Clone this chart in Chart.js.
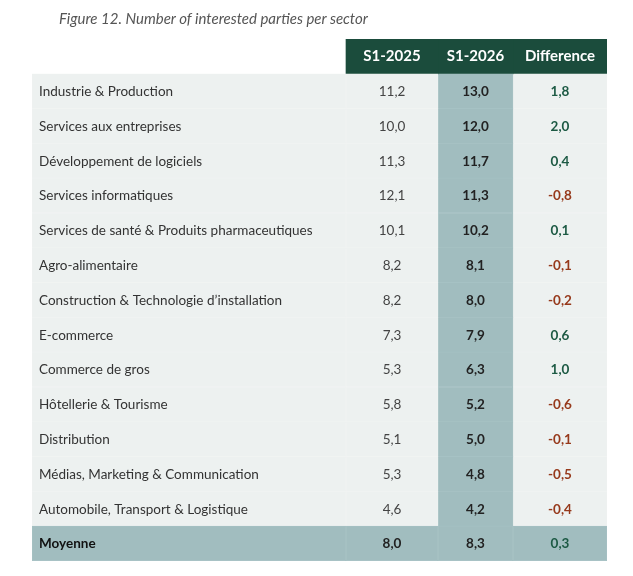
<!DOCTYPE html>
<html lang="fr">
<head>
  <meta charset="UTF-8">
  <title>Figure 12</title>
  <script src="https://cdn.jsdelivr.net/npm/chart.js"></script>
  <style>
    html, body { margin: 0; padding: 0; background: #fff; }
    #wrap { position: relative; width: 633px; height: 576px; }
    #title {
      position: absolute; left: 59px; top: 9px;
      font: italic 15px Lato, sans-serif; color: #555;
    }
    canvas { position: absolute; left: 0; top: 0; }
  </style>
</head>
<body>
  <div id="wrap">
    <canvas id="tbl" width="633" height="576"></canvas>
    <div id="title">Figure 12. Number of interested parties per sector</div>
  </div>
  <script>
    // données
    const sectors = [
      'Industrie & Production',
      'Services aux entreprises',
      'Développement de logiciels',
      'Services informatiques',
      'Services de santé & Produits pharmaceutiques',
      'Agro-alimentaire',
      'Construction & Technologie d\u2019installation',
      'E-commerce',
      'Commerce de gros',
      'Hôtellerie & Tourisme',
      'Distribution',
      'Médias, Marketing & Communication',
      'Automobile, Transport & Logistique'
    ];
    const averageLabel = 'Moyenne';
    const columnHeaders = ['S1-2025', 'S1-2026', 'Difference'];
    const s2025 = [11.2, 10.0, 11.3, 12.1, 10.1, 8.2, 8.2, 7.3, 5.3, 5.8, 5.1, 5.3, 4.6, 8.0];
    const s2026 = [13.0, 12.0, 11.7, 11.3, 10.2, 8.1, 8.0, 7.9, 6.3, 5.2, 5.0, 4.8, 4.2, 8.3];
    const diff  = [1.8, 2.0, 0.4, -0.8, 0.1, -0.1, -0.2, 0.6, 1.0, -0.6, -0.1, -0.5, -0.4, 0.3];

    // mise en page : bords des colonnes sur l'axe x
    const colEdges = [0, 314, 406, 481, 575];
    const FONT = 'Lato, sans-serif';
    const DARK = '#1b4c3c';
    const LIGHT = '#edf1f0';
    const TEAL = '#a1bdbf';
    const POS = '#1d5a44';
    const NEG = '#96391b';

    // ligne 0 = en-tête, puis secteurs, puis moyenne
    const rows = [''].concat(sectors, [averageLabel]);
    const lastRow = rows.length - 1;

    const fmt = v => v.toFixed(1).replace('.', ',');

    function cellColor(row, col) {
      if (row === 0) return col === 0 ? 'rgba(0,0,0,0)' : DARK;
      if (row === lastRow) return TEAL;
      return col === 2 ? TEAL : LIGHT;
    }
    // filet très discret, un peu plus clair que la cellule
    function edgeColor(row, col) {
      const c = cellColor(row, col);
      if (c === TEAL) return '#abc5c7';
      if (c === LIGHT) return '#f2f5f4';
      return c;
    }

    const datasets = colEdges.slice(0, -1).map((start, c) => ({
      label: 'col' + c,
      data: rows.map(() => [start, colEdges[c + 1]]),
      backgroundColor: ctx => cellColor(ctx.dataIndex, c),
      borderColor: ctx => edgeColor(ctx.dataIndex, c),
      borderWidth: ctx => ctx.dataIndex === 0 ? 0 : 0.5,
      borderSkipped: false,
      barPercentage: 1,
      categoryPercentage: 1
    }));

    // texte des cellules, placé avec les échelles
    const cellText = {
      id: 'cellText',
      afterDatasetsDraw(chart) {
        const { ctx, scales: { x, y } } = chart;
        ctx.save();
        ctx.textBaseline = 'middle';
        const centers = [1, 2, 3].map(c => (x.getPixelForValue(colEdges[c]) + x.getPixelForValue(colEdges[c + 1])) / 2);

        // en-tête
        ctx.fillStyle = '#fff';
        ctx.font = 'bold 15px ' + FONT;
        ctx.textAlign = 'center';
        columnHeaders.forEach((h, i) => ctx.fillText(h, centers[i], y.getPixelForValue(0)));

        for (let r = 1; r < rows.length; r++) {
          const py = y.getPixelForValue(r) + 0.5;
          const i = r - 1;
          const avg = r === lastRow;

          ctx.textAlign = 'left';
          ctx.fillStyle = avg ? '#111' : '#333';
          ctx.font = (avg ? 'bold ' : '') + '13.5px ' + FONT;
          ctx.fillText(rows[r], x.getPixelForValue(colEdges[0]) + 7, py);

          ctx.textAlign = 'center';
          ctx.fillStyle = avg ? '#222' : '#444';
          ctx.font = (avg ? 'bold ' : '') + '13.5px ' + FONT;
          ctx.fillText(fmt(s2025[i]), centers[0], py);

          ctx.fillStyle = '#222';
          ctx.font = 'bold 13.5px ' + FONT;
          ctx.fillText(fmt(s2026[i]), centers[1], py);

          ctx.fillStyle = diff[i] < 0 ? NEG : POS;
          ctx.font = 'bold 13.5px ' + FONT;
          ctx.fillText(fmt(diff[i]), centers[2], py);
        }
        ctx.restore();
      }
    };

    new Chart(document.getElementById('tbl'), {
      type: 'bar',
      data: { labels: rows, datasets },
      options: {
        indexAxis: 'y',
        responsive: false,
        animation: false,
        events: [],
        grouped: false,
        layout: { padding: { left: 32, right: 26, top: 39, bottom: 15 } },
        scales: {
          x: { display: false, min: colEdges[0], max: colEdges[colEdges.length - 1] },
          y: { display: false }
        },
        plugins: {
          legend: { display: false },
          tooltip: { enabled: false },
          title: { display: false }
        }
      },
      plugins: [cellText]
    });
  </script>
</body>
</html>
